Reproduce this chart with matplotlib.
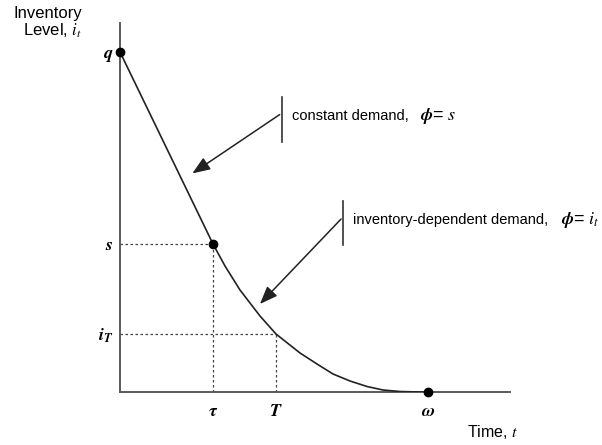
import matplotlib
matplotlib.use('Agg')
import matplotlib.pyplot as plt
from matplotlib.patches import FancyArrowPatch

plt.rcParams['font.family'] = ['Liberation Sans', 'DejaVu Sans']
plt.rcParams['mathtext.fontset'] = 'stix'

# key levels and times (pixel-like units)
q, s, i_T = 340, 148, 58
tau, T, omega = 93, 156, 308

# inventory curve: linear drop to s, then decay to zero at omega
curve_t = [0, 93, 105, 120, 140, 156, 180, 197, 213, 230, 247, 263, 280, 295, 308]
curve_i = [340, 148, 126, 102, 76, 58, 39, 28, 18, 11, 5.5, 2, 0.5, 0.1, 0]

dot_t = [0, tau, omega]
dot_i = [q, s, 0]

xtick_pos = [tau, T, omega]
xtick_lab = [r'$\mathbfit{\tau}$', r'$\mathbfit{T}$', r'$\mathbfit{\omega}$']
ytick_pos = [q, s, i_T]
ytick_lab = [r'$\mathbfit{q}$', r'$\mathbfit{s}$', r'$\mathbfit{i_T}$']

# annotations: bar t, bar bottom, bar top, tail i, tip t, tip i, math label t
const_note = (162, 250, 295, 279, 70, 217, 300)
dep_note = (223, 147, 191, 175, 138, 86, 441)
note_words = ['constant demand,', 'inventory-dependent demand,']
note_math = [r'$\mathbfit{\phi}$= $\mathit{s}$', r'$\mathbfit{\phi}$= $\mathit{i_t}$']

fig = plt.figure(figsize=(6.02, 4.45), dpi=100)
ax = fig.add_axes([120 / 602, 53 / 445, 390 / 602, 369 / 445])
ax.set_xlim(0, 390)
ax.set_ylim(0, 369)

for side in ['top', 'right']:
    ax.spines[side].set_visible(False)
for side in ['left', 'bottom']:
    ax.spines[side].set_color('#5a5a5a')
    ax.spines[side].set_linewidth(1.4)

ax.set_xticks(xtick_pos)
ax.set_xticklabels(xtick_lab, fontsize=13)
ax.set_yticks(ytick_pos)
ax.set_yticklabels(ytick_lab, fontsize=13)
ax.tick_params(axis='x', length=0, pad=8)
ax.tick_params(axis='y', length=0, pad=5)

# dashed guides
for tt, ii in [(tau, s), (T, i_T)]:
    ax.plot([0, tt], [ii, ii], ls=(0, (2, 2)), color='#444444', lw=0.9)
    ax.plot([tt, tt], [0, ii], ls=(0, (2, 2)), color='#444444', lw=0.9)

ax.plot(curve_t, curve_i, color='#222222', lw=1.2, zorder=3)
ax.plot(dot_t, dot_i, 'o', color='black', ms=6, zorder=4, clip_on=False)

for note, words, math in zip([const_note, dep_note], note_words, note_math):
    bt, b0, b1, tail_i, tip_t, tip_i, mt = note
    ax.plot([bt, bt], [b0, b1], color='#333333', lw=1.2)
    arr = FancyArrowPatch((bt, tail_i), (tip_t, tip_i),
                          arrowstyle='-|>,head_length=0.9,head_width=0.35',
                          mutation_scale=12, color='#222222', lw=1.1)
    ax.add_patch(arr)
    ax.text(bt + 10, tail_i - 3, words, fontsize=10.5, va='center', ha='left')
    ax.text(mt, tail_i - 3, math, fontsize=13, va='center', ha='left',
            clip_on=False)

fig.text(82 / 602, 1 - 23 / 445, 'Inventory\nLevel, $\\mathit{i_t}$', ha='right',
         va='center', fontsize=12, multialignment='right', linespacing=1.0)
fig.text(467 / 602, 1 - 432 / 445, 'Time, $\\mathit{t}$', ha='left', va='center',
         fontsize=11.5)

fig.savefig('out.png', dpi=100)
